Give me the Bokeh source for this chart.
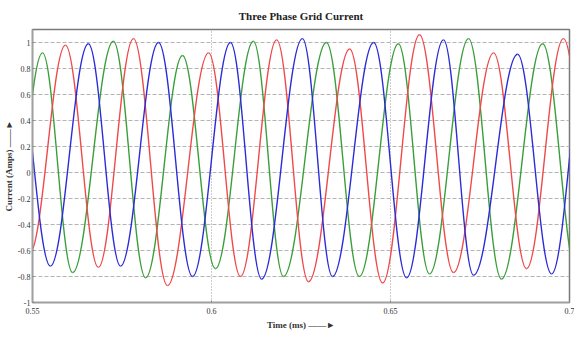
from bokeh.plotting import figure
from bokeh.models import Range1d, FixedTicker, ColumnDataSource
from bokeh.embed import file_html
from bokeh.resources import INLINE

# ---- data: successive extrema (time in s, current in A) ----
green_t = [0.5430, 0.5528, 0.5612, 0.5726, 0.5816, 0.5919, 0.6011, 0.6117, 0.6201,
           0.6321, 0.6413, 0.6522, 0.6609, 0.6718, 0.6810, 0.6925, 0.7022]
green_v = [-0.78, 0.92, -0.77, 1.01, -0.81, 0.90, -0.74, 1.01, -0.80,
           1.00, -0.80, 0.99, -0.78, 1.03, -0.82, 0.99, -0.80]

red_t = [0.5492, 0.5592, 0.5684, 0.5782, 0.5877, 0.5992, 0.6081, 0.6182, 0.6271,
         0.6386, 0.6478, 0.6581, 0.6676, 0.6788, 0.6880, 0.6983, 0.7081]
red_v = [-0.62, 0.98, -0.73, 1.03, -0.87, 0.92, -0.80, 1.02, -0.84,
         0.95, -0.85, 1.06, -0.77, 0.92, -0.74, 1.03, -0.80]

blue_t = [0.5453, 0.5550, 0.5656, 0.5746, 0.5852, 0.5947, 0.6053, 0.6140, 0.6254,
          0.6338, 0.6453, 0.6545, 0.6648, 0.6732, 0.6855, 0.6950, 0.7050]
blue_v = [0.95, -0.72, 0.99, -0.72, 1.00, -0.80, 1.00, -0.82, 1.03,
          -0.80, 1.00, -0.81, 1.02, -0.79, 0.91, -0.78, 1.00]

x_ticks = [0.55, 0.6, 0.65, 0.7]
x_tick_labels = ["0.55", "0.6", "0.65", "0.7"]
y_ticks = [-1, -0.8, -0.6, -0.4, -0.2, 0, 0.2, 0.4, 0.6, 0.8, 1]
y_tick_labels = ["-1", "-0.8", "-0.6", "-0.4", "-0.2", "0", "0.2", "0.4", "0.6", "0.8", "1"]

SERIF = "Liberation Serif"

p = figure(width=574, height=336, output_backend="svg", toolbar_location=None,
           x_range=Range1d(0.55, 0.70), y_range=Range1d(-1.0, 1.1),
           min_border_left=32, min_border_right=5, min_border_top=28, min_border_bottom=34,
           title="Three Phase Grid Current")
p.background_fill_color = "white"
p.border_fill_color = "white"
p.outline_line_color = "#7a7a7a"
p.outline_line_width = 1.5

p.title.align = "center"
p.title.vertical_align = "bottom"
p.title.text_font = SERIF
p.title.text_font_size = "11px"
p.title.text_font_style = "bold"
p.title.text_color = "#222222"
p.title.standoff = 15

# axes
p.xaxis.ticker = FixedTicker(ticks=x_ticks)
p.xaxis.major_label_overrides = dict(zip(x_ticks, x_tick_labels))
p.yaxis.ticker = FixedTicker(ticks=y_ticks)
p.yaxis.major_label_overrides = dict(zip(y_ticks, y_tick_labels))
for ax in (p.xaxis[0], p.yaxis[0]):
    ax.axis_line_color = "#a0a0a0"
    ax.axis_line_width = 1.5
    ax.major_tick_in = 2
    ax.major_tick_out = 0
    ax.major_tick_line_color = "#888888"
    ax.minor_tick_line_color = None
    ax.major_label_text_font = SERIF
    ax.major_label_text_font_size = "8px"
    ax.major_label_text_color = "#333333"
    ax.major_label_standoff = 5
    ax.axis_label_text_font = SERIF
    ax.axis_label_text_font_size = "9px"
    ax.axis_label_text_font_style = "bold"
    ax.axis_label_text_color = "#333333"
    ax.axis_label_standoff = 3
p.yaxis.major_label_standoff = 2
p.yaxis.axis_label_standoff = 1
p.xaxis.axis_label = "Time (ms) \u2014\u2014\u25ba"
p.yaxis.axis_label = "Current (Amps) \u2014\u2014\u25ba"

p.xgrid.grid_line_color = "#9a9a9a"
p.xgrid.grid_line_dash = "1 2"
p.ygrid.grid_line_color = "#b4b4b4"
p.ygrid.grid_line_dash = "4 2"

# smooth half-wave curves between successive extrema (cubic Bezier, flat tangents at extrema)
K = 0.3634

def add_phase(ts, vs, color):
    x0 = ts[:-1]
    x1 = ts[1:]
    y0 = vs[:-1]
    y1 = vs[1:]
    cx0 = [a + K * (b - a) for a, b in zip(x0, x1)]
    cx1 = [b - K * (b - a) for a, b in zip(x0, x1)]
    src = ColumnDataSource(dict(x0=x0, y0=y0, x1=x1, y1=y1,
                                cx0=cx0, cy0=y0, cx1=cx1, cy1=y1))
    p.bezier(x0="x0", y0="y0", x1="x1", y1="y1", cx0="cx0", cy0="cy0",
             cx1="cx1", cy1="cy1", source=src, line_color=color, line_width=1.4)

add_phase(green_t, green_v, "#3a9e3a")
add_phase(red_t, red_v, "#ef4a4a")
add_phase(blue_t, blue_v, "#2b2bd8")

open("out.html", "w").write(file_html(p, INLINE))
